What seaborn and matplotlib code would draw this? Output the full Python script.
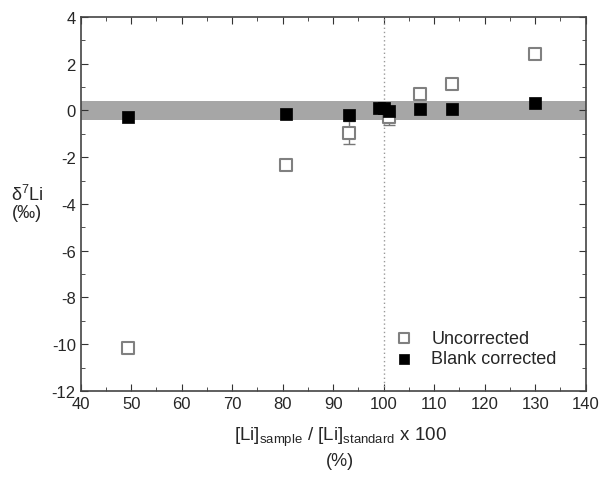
import numpy as np
import pandas as pd
import seaborn as sns
import matplotlib
matplotlib.use("Agg")
import matplotlib.pyplot as plt
from matplotlib.ticker import MultipleLocator

# --- data ---
unc_x = [49.3, 80.6, 93.1, 101.0, 107.2, 113.6, 130.0]
unc_y = [-10.15, -2.35, -0.95, -0.30, 0.72, 1.12, 2.40]
unc_err = [0.0, 0.0, 0.50, 0.32, 0.0, 0.0, 0.0]

cor_x = [49.3, 80.6, 93.1, 99.0, 100.0, 101.0, 107.2, 113.6, 130.0]
cor_y = [-0.30, -0.15, -0.22, 0.08, 0.10, -0.02, 0.05, 0.05, 0.32]

band_lo, band_hi = -0.4, 0.4

sns.set_style("ticks")
plt.rcParams["font.family"] = ["Liberation Sans", "DejaVu Sans"]
plt.rcParams["mathtext.fontset"] = "custom"
plt.rcParams["mathtext.rm"] = "Liberation Sans"
plt.rcParams["mathtext.it"] = "Liberation Sans:italic"
plt.rcParams["axes.unicode_minus"] = False

df = pd.DataFrame({
    "x": unc_x + cor_x,
    "y": unc_y + cor_y,
    "kind": ["Uncorrected"] * len(unc_x) + ["Blank corrected"] * len(cor_x),
})

fig = plt.figure(figsize=(6.02, 4.81), dpi=100)
ax = fig.add_axes([0.134, 0.185, 0.839, 0.778])

ax.axhspan(band_lo, band_hi, color="#a6a6a6", lw=0, zorder=0)
ax.axvline(100, color="#999999", ls=(0, (1, 2)), lw=1, zorder=1)

# error bars on the uncorrected points
ax.errorbar(unc_x, unc_y, yerr=unc_err, fmt="none", ecolor="#777777",
            elinewidth=1, capsize=4, zorder=2)

sns.scatterplot(data=df[df.kind == "Uncorrected"], x="x", y="y", ax=ax,
                marker="s", s=80, facecolor="white", edgecolor="#808080",
                linewidth=1.5, label="Uncorrected", zorder=3)
sns.scatterplot(data=df[df.kind == "Blank corrected"], x="x", y="y", ax=ax,
                marker="s", s=80, color="black", edgecolor="black",
                linewidth=0.5, label="Blank corrected", zorder=4)

ax.set_xlim(40, 140)
ax.set_ylim(-12, 4)
ax.xaxis.set_major_locator(MultipleLocator(10))
ax.xaxis.set_minor_locator(MultipleLocator(5))
ax.yaxis.set_major_locator(MultipleLocator(2))
ax.yaxis.set_minor_locator(MultipleLocator(1))
ax.tick_params(which="both", direction="in", top=True, right=True,
               labelsize=12, color="#333333")
ax.tick_params(which="major", length=5)
ax.tick_params(which="minor", length=3)
for sp in ax.spines.values():
    sp.set_color("#444444")
    sp.set_linewidth(1.2)

ax.set_xlabel("")
ax.set_ylabel("")
fig.text(0.565, 0.09,
         r"[Li]$_{\mathrm{sample}}$ / [Li]$_{\mathrm{standard}}$ x 100",
         ha="center", va="center", fontsize=13.5)
fig.text(0.565, 0.04, "(%)", ha="center", va="center", fontsize=13)
fig.text(0.045, 0.595, r"δ$^{7}$Li", ha="center", va="center", fontsize=13)
fig.text(0.045, 0.556, "(‰)", ha="center", va="center", fontsize=13)

ax.legend(loc="lower right", frameon=False, fontsize=13,
          bbox_to_anchor=(0.975, 0.02), handletextpad=0.5, markerscale=0.75,
          labelspacing=0.2)

fig.savefig("out.png", dpi=100)
